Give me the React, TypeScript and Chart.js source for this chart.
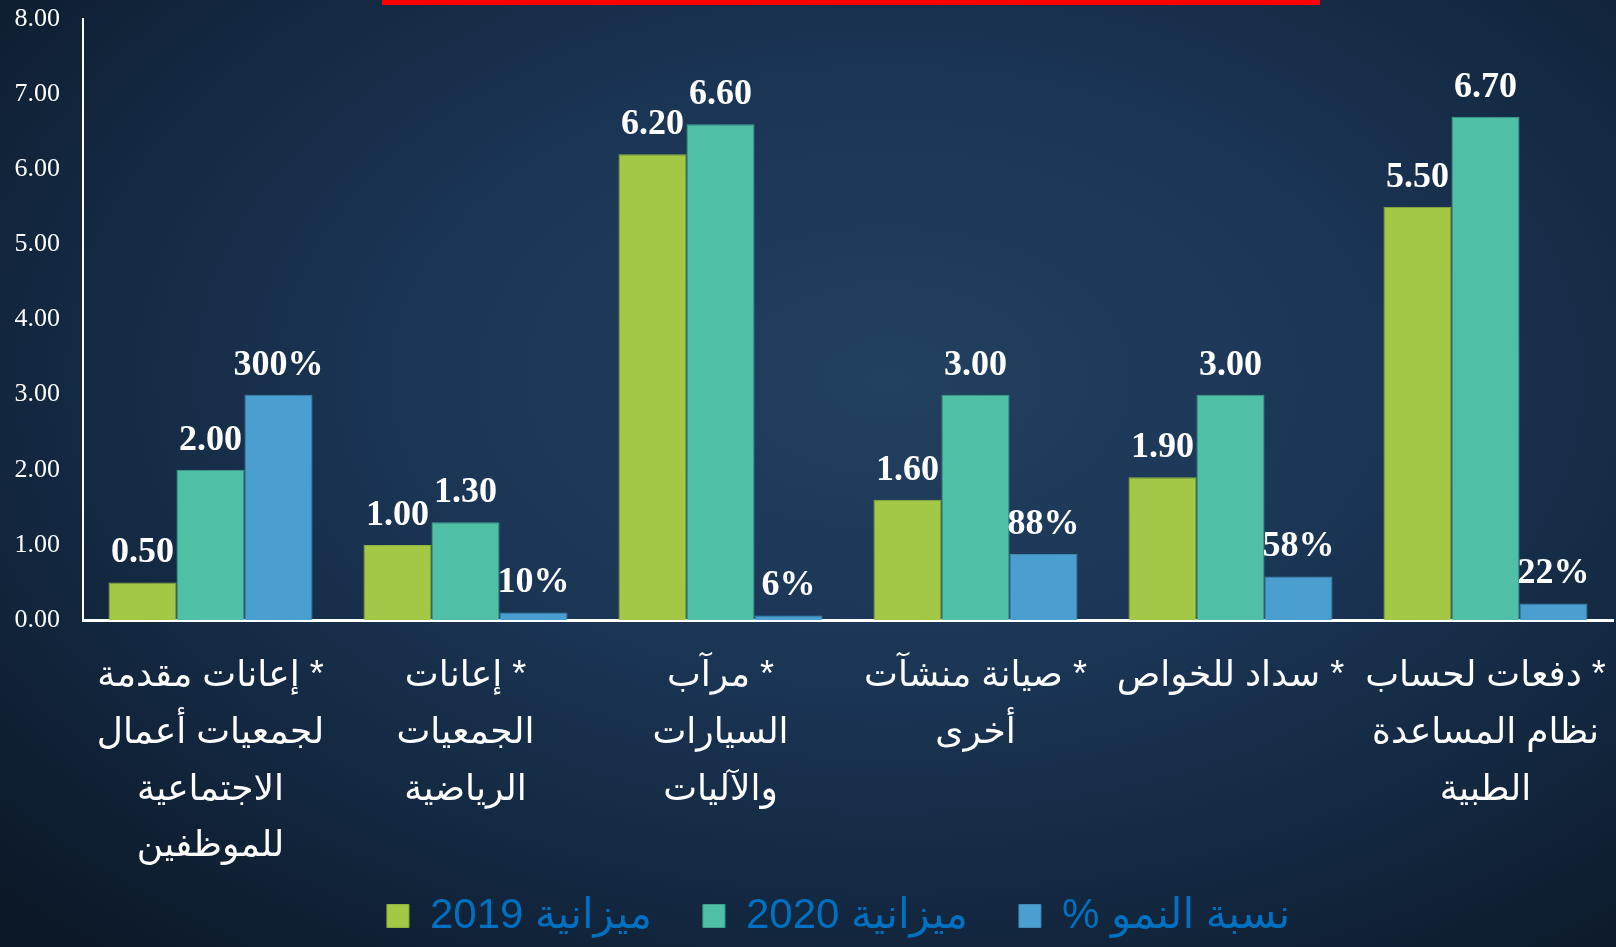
import { useEffect, useRef } from 'react';
import { Chart, registerables } from 'chart.js';

Chart.register(...registerables);

// ---- data ----
const categoryLines: string[][] = [
  ['* إعانات مقدمة', 'لجمعيات أعمال', 'الاجتماعية', 'للموظفين'],
  ['* إعانات', 'الجمعيات', 'الرياضية'],
  ['* مرآب', 'السيارات', 'والآليات'],
  ['* صيانة منشآت', 'أخرى'],
  ['* سداد للخواص'],
  ['* دفعات لحساب', 'نظام المساعدة', 'الطبية'],
];
const budget2019 = [0.5, 1.0, 6.2, 1.6, 1.9, 5.5];
const budget2020 = [2.0, 1.3, 6.6, 3.0, 3.0, 6.7];
const growthPct = [300, 10, 6, 88, 58, 22];
const seriesNames = ['ميزانية 2019', 'ميزانية 2020', 'نسبة النمو %'];
const seriesColors = ['#A2C845', '#4FBFA5', '#4A9FD0'];
const seriesBorders = ['#8fb23a', '#3fa38c', '#3f89b6'];
const yMin = 0;
const yMax = 8;
const yStep = 1;

const RLM = '\u200F';
const GAP = '\u2002';

const valueLabels = (ds: number, i: number): string => {
  if (ds === 2) return `${growthPct[i]}%`;
  return (ds === 0 ? budget2019[i] : budget2020[i]).toFixed(2);
};

const dataLabelPlugin = {
  id: 'valueLabels',
  afterDatasetsDraw(chart: any) {
    const ctx = chart.ctx;
    ctx.save();
    ctx.fillStyle = '#ffffff';
    ctx.font = 'bold 36px "Liberation Serif", "Times New Roman", serif';
    ctx.textAlign = 'center';
    ctx.textBaseline = 'alphabetic';
    chart.data.datasets.forEach((_ds: any, di: number) => {
      const meta = chart.getDatasetMeta(di);
      meta.data.forEach((bar: any, i: number) => {
        ctx.fillText(valueLabels(di, i), bar.x, bar.y - 20);
      });
    });
    ctx.restore();
  },
};

// the legend in the reference sits a little right of the page centre
const legendShiftPlugin = {
  id: 'legendShift',
  afterLayout(chart: any) {
    if (chart.legend) {
      chart.legend.left += 32;
      chart.legend.right += 32;
    }
  },
};

export default function App() {
  const ref = useRef<HTMLCanvasElement | null>(null);

  useEffect(() => {
    if (!ref.current) return;
    const chart = new Chart(ref.current, {
      type: 'bar',
      data: {
        labels: categoryLines.map((lines) => lines.map((l) => RLM + l)),
        datasets: [
          {
            label: seriesNames[0] + GAP,
            data: budget2019,
            backgroundColor: seriesColors[0],
            borderColor: seriesBorders[0],
            borderWidth: 1,
          },
          {
            label: seriesNames[1] + GAP,
            data: budget2020,
            backgroundColor: seriesColors[1],
            borderColor: seriesBorders[1],
            borderWidth: 1,
          },
          {
            label: seriesNames[2] + RLM,
            data: growthPct.map((p) => p / 100),
            backgroundColor: seriesColors[2],
            borderColor: seriesBorders[2],
            borderWidth: 1,
          },
        ],
      },
      options: {
        animation: false,
        responsive: true,
        maintainAspectRatio: false,
        layout: { padding: { top: 19, right: 3, left: 0, bottom: 0 } },
        datasets: {
          bar: { categoryPercentage: 0.8, barPercentage: 1.0 },
        },
        plugins: {
          tooltip: { enabled: false },
          legend: {
            position: 'bottom',
            labels: {
              color: '#0070C0',
              font: { size: 42, family: '"Liberation Sans", "DejaVu Sans", Arial, sans-serif' },
              boxWidth: 22,
              boxHeight: 23,
              padding: 30,
            },
          },
        },
        scales: {
          x: {
            grid: { display: false, drawTicks: false },
            border: { display: true, color: '#ffffff', width: 3 },
            ticks: {
              color: '#ffffff',
              autoSkip: false,
              maxRotation: 0,
              minRotation: 0,
              padding: 28,
              font: {
                size: 36,
                lineHeight: 1.575,
                family: '"Liberation Sans", "DejaVu Sans", Arial, sans-serif',
              },
            },
            afterFit: (scale: any) => {
              const legendH = scale.chart.legend ? scale.chart.legend.height : 0;
              scale.height = scale.chart.height - 620 - legendH;
              scale.paddingLeft = 0;
              scale.paddingRight = 0;
            },
          },
          y: {
            min: yMin,
            max: yMax,
            grid: { display: false, drawTicks: false },
            border: { display: true, color: '#ffffff', width: 2 },
            ticks: {
              stepSize: yStep,
              color: '#ffffff',
              padding: 23,
              font: { size: 26, family: '"Liberation Serif", "Times New Roman", serif' },
              callback: (v: any) => Number(v).toFixed(2),
            },
            afterFit: (scale: any) => {
              scale.width = 83;
              scale.paddingTop = 16;
              scale.paddingBottom = 16;
            },
          },
        },
      },
      plugins: [dataLabelPlugin, legendShiftPlugin],
    });
    return () => chart.destroy();
  }, []);

  return (
    <div
      style={{
        position: 'fixed',
        left: 0,
        top: 0,
        width: 1616,
        height: 947,
        overflow: 'hidden',
        background:
          'radial-gradient(ellipse 75% 80% at 55% 40%, #22405f 0%, #1b3555 40%, #132840 70%, #0c1828 100%)',
      }}
    >
      <div
        style={{
          position: 'absolute',
          left: 382,
          top: 0,
          width: 938,
          height: 5,
          background: '#ff0000',
        }}
      />
      <canvas ref={ref} style={{ position: 'absolute', left: 0, top: 0 }} />
      <style>{'body{margin:0}'}</style>
    </div>
  );
}
